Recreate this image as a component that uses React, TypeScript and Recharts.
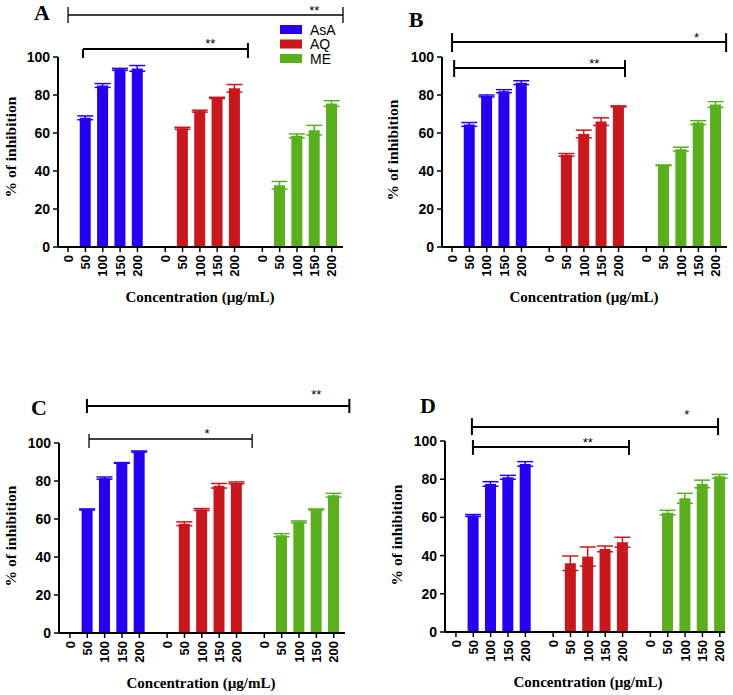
import React from 'react';
import { BarChart, Bar, XAxis, YAxis, ErrorBar, ReferenceLine, ReferenceDot } from 'recharts';

// ---------- data ----------
const concentrations = ['0', '50', '100', '150', '200'];
const seriesNames = ['AsA', 'AQ', 'ME'];
const seriesKeys = ['asa', 'aq', 'me'];
const seriesColors = ['#2300ef', '#c8171d', '#5aaf1f'];
const yTicks = [0, 20, 40, 60, 80, 100];
const GROUP_STEP = 5.6;

// Panel A
const aAsA = [68, 85, 93.5, 94];
const aAsAErr = [1, 1, 0.5, 1.5];
const aAQ = [62.5, 71.5, 78.5, 83.5];
const aAQErr = [0.5, 0.5, 0.3, 2];
const aME = [32.5, 58.5, 61.5, 75.5];
const aMEErr = [2, 1, 2.5, 1.5];

// Panel B
const bAsA = [64.5, 79.5, 82, 86.5];
const bAsAErr = [1, 0.5, 0.8, 1];
const bAQ = [48.5, 59.5, 66, 74];
const bAQErr = [0.7, 2, 2, 0.3];
const bME = [43, 51.5, 65.5, 75];
const bMEErr = [0.2, 1, 1, 1.5];

// Panel C
const cAsA = [65, 81.5, 89.5, 95.5];
const cAsAErr = [0.3, 0.6, 0.2, 0.3];
const cAQ = [57.5, 65, 77.5, 79];
const cAQErr = [1, 0.5, 1.2, 0.5];
const cME = [51.5, 58.5, 65, 72.5];
const cMEErr = [0.8, 0.5, 0.3, 1];

// Panel D
const dAsA = [61, 77.5, 81, 88];
const dAsAErr = [0.5, 1.2, 1, 1.2];
const dAQ = [36, 39.5, 43.5, 47];
const dAQErr = [3.8, 5, 1.5, 2.6];
const dME = [62.5, 70, 77.5, 81.5];
const dMEErr = [1.2, 2.6, 2, 1];

// significance brackets (data units)
const bracketsA = [
  { x1: 0, x2: 15.85, y: 122.1, capL: [117.9, 126.3], capR: [117.9, 126.3], label: '**', lx: 14.2, ly: 124.5, w: 1.3 },
  { x1: 0.86, x2: 10.37, y: 104.2, capL: [99.5, 104.2], capR: [99.5, 107.4], label: '**', lx: 8.2, ly: 107.3, w: 2 },
];
const bracketsB = [
  { x1: 0, x2: 15.8, y: 107.9, capL: [102.6, 112.6], capR: [102.6, 112.6], label: '*', lx: 14.1, ly: 110.5, w: 2 },
  { x1: 0.12, x2: 9.97, y: 94.2, capL: [89.5, 98.4], capR: [89.5, 98.4], label: '**', lx: 8.2, ly: 96.5, w: 2 },
];
const bracketsC = [
  { x1: 0.98, x2: 16.1, y: 119.5, capL: [115.8, 123.2], capR: [115.8, 123.2], label: '**', lx: 14.2, ly: 125.5, w: 2 },
  { x1: 1.1, x2: 10.5, y: 102.1, capL: [97.4, 104.7], capR: [97.4, 104.7], label: '*', lx: 7.9, ly: 105, w: 1.3 },
];
const bracketsD = [
  { x1: 0.92, x2: 15.1, y: 107.3, capL: [103.1, 112], capR: [103.1, 112], label: '*', lx: 13.3, ly: 114, w: 2 },
  { x1: 0.98, x2: 9.97, y: 96.9, capL: [92.7, 100.5], capR: [92.7, 100.5], label: '**', lx: 7.6, ly: 99.5, w: 2 },
];

// ---------- helpers ----------
function buildData(vals: number[][], errs: number[][]) {
  const rows: any[] = [];
  vals.forEach((v, g) => {
    concentrations.forEach((_, i) => {
      const row: any = { x: g * GROUP_STEP + i };
      if (i > 0) {
        row[seriesKeys[g]] = v[i - 1];
        row[seriesKeys[g] + 'Err'] = errs[g][i - 1];
      }
      rows.push(row);
    });
  });
  return rows;
}

const tickValues: number[] = [];
const tickLabels = new Map<number, string>();
seriesKeys.forEach((_, g) => {
  concentrations.forEach((c, i) => {
    const t = g * GROUP_STEP + i;
    tickValues.push(t);
    tickLabels.set(t, c);
  });
});

const XTick = (props: any) => {
  const { x, y, payload } = props;
  return (
    <g transform={`translate(${x},${y})`}>
      <text
        transform="rotate(-90)"
        textAnchor="end"
        dy="0.36em"
        fontSize={13}
        fontWeight={700}
        fontFamily="Liberation Sans, Arial, sans-serif"
        fill="#000"
      >
        {tickLabels.get(payload.value) ?? ''}
      </text>
    </g>
  );
};

const YW = 40;
const XH = 40;

const panels = [
  {
    id: 'A', left: 0, top: 0, w: 366, h: 340, plot: { l: 58, r: 343, t: 57, b: 247 }, xMin: -0.58, xMax: 15.85,
    data: buildData([aAsA, aAQ, aME], [aAsAErr, aAQErr, aMEErr]), brackets: bracketsA,
    letter: { x: 42, y: 20 }, ylab: { x: 10, y: 147 }, xlab: { x: 200, y: 297 }, legend: true,
  },
  {
    id: 'B', left: 366, top: 0, w: 367, h: 340, plot: { l: 442, r: 727, t: 57, b: 247 }, xMin: -0.58, xMax: 15.85,
    data: buildData([bAsA, bAQ, bME], [bAsAErr, bAQErr, bMEErr]), brackets: bracketsB,
    letter: { x: 416, y: 27 }, ylab: { x: 392, y: 150 }, xlab: { x: 584, y: 297 }, legend: false,
  },
  {
    id: 'C', left: 0, top: 340, w: 366, h: 355, plot: { l: 59, r: 345, t: 443, b: 633 }, xMin: -0.63, xMax: 15.85,
    data: buildData([cAsA, cAQ, cME], [cAsAErr, cAQErr, cMEErr]), brackets: bracketsC,
    letter: { x: 39, y: 415 }, ylab: { x: 10, y: 536 }, xlab: { x: 201, y: 683 }, legend: false,
  },
  {
    id: 'D', left: 366, top: 340, w: 367, h: 355, plot: { l: 445, r: 725, t: 441, b: 632 }, xMin: -0.63, xMax: 15.5,
    data: buildData([dAsA, dAQ, dME], [dAsAErr, dAQErr, dMEErr]), brackets: bracketsD,
    letter: { x: 428, y: 413 }, ylab: { x: 396, y: 535 }, xlab: { x: 588, y: 682 }, legend: false,
  },
];

const serif = 'Liberation Serif, Times New Roman, serif';
const sans = 'Liberation Sans, Arial, sans-serif';

function Panel({ p }: { p: any }) {
  const margin = {
    left: p.plot.l - p.left - YW,
    right: p.left + p.w - p.plot.r,
    top: p.plot.t - p.top,
    bottom: p.top + p.h - p.plot.b - XH,
  };
  return (
    <div style={{ position: 'absolute', left: p.left, top: p.top, width: p.w, height: p.h }}>
      <BarChart width={p.w} height={p.h} data={p.data} margin={margin} barCategoryGap={0}>
        <XAxis
          type="number"
          dataKey="x"
          domain={[p.xMin, p.xMax]}
          allowDataOverflow
          ticks={tickValues}
          interval={0}
          height={XH}
          tick={<XTick />}
          tickSize={5}
          tickMargin={3}
          axisLine={{ stroke: '#000', strokeWidth: 2 }}
          tickLine={{ stroke: '#000', strokeWidth: 1.5 }}
        />
        <YAxis
          type="number"
          domain={[0, 100]}
          allowDataOverflow
          ticks={yTicks}
          interval={0}
          width={YW}
          tickSize={5}
          tickMargin={3}
          axisLine={{ stroke: '#000', strokeWidth: 2 }}
          tickLine={{ stroke: '#000', strokeWidth: 1.5 }}
          tick={{ fill: '#000', fontSize: 14, fontWeight: 700, fontFamily: sans }}
        />
        {seriesKeys.map((k, g) => (
          <Bar key={k} dataKey={k} name={seriesNames[g]} stackId="s" fill={seriesColors[g]} barSize={11} isAnimationActive={false}>
            <ErrorBar dataKey={k + 'Err'} direction="y" width={8} stroke={seriesColors[g]} strokeWidth={1.5} isAnimationActive={false} />
          </Bar>
        ))}
        {p.brackets.map((b: any, i: number) => (
          <ReferenceLine key={'h' + i} segment={[{ x: b.x1, y: b.y }, { x: b.x2, y: b.y }]} stroke="#000" strokeWidth={b.w} ifOverflow="visible" />
        ))}
        {p.brackets.map((b: any, i: number) => (
          <ReferenceLine key={'l' + i} segment={[{ x: b.x1, y: b.capL[0] }, { x: b.x1, y: b.capL[1] }]} stroke="#000" strokeWidth={b.w} ifOverflow="visible" />
        ))}
        {p.brackets.map((b: any, i: number) => (
          <ReferenceLine key={'r' + i} segment={[{ x: b.x2, y: b.capR[0] }, { x: b.x2, y: b.capR[1] }]} stroke="#000" strokeWidth={b.w} ifOverflow="visible" />
        ))}
        {p.brackets.map((b: any, i: number) => (
          <ReferenceDot
            key={'d' + i}
            x={b.lx}
            y={b.ly}
            r={0}
            fill="none"
            stroke="none"
            ifOverflow="visible"
            label={{ value: b.label, position: 'center', fontSize: 13, fill: '#000', fontFamily: sans }}
          />
        ))}
      </BarChart>
    </div>
  );
}

export default function App() {
  return (
    <div style={{ position: 'absolute', left: 0, top: 0, width: 733, height: 695, background: '#fff', overflow: 'hidden' }}>
      {panels.map((p) => (
        <Panel key={p.id} p={p} />
      ))}
      <svg width={733} height={695} style={{ position: 'absolute', left: 0, top: 0, pointerEvents: 'none' }}>
        {panels.map((p) => (
          <g key={'t' + p.id}>
            <text x={p.letter.x} y={p.letter.y} textAnchor="middle" fontFamily={serif} fontWeight={700} fontSize={22} fill="#000">
              {p.id}
            </text>
            <text
              transform={`translate(${p.ylab.x},${p.ylab.y}) rotate(-90)`}
              textAnchor="middle"
              dominantBaseline="central"
              fontFamily={serif}
              fontWeight={700}
              fontSize={15.5}
              fill="#000"
            >
              % of inhibition
            </text>
            <text x={p.xlab.x} y={p.xlab.y} textAnchor="middle" dominantBaseline="central" fontFamily={serif} fontWeight={700} fontSize={15} fill="#000">
              Concentration (µg/mL)
            </text>
          </g>
        ))}
        {seriesNames.map((n, g) => (
          <g key={'lg' + n}>
            <rect x={280} y={25 + g * 14.5} width={22} height={9} fill={seriesColors[g]} />
            <text x={310} y={29.5 + g * 14.5} dominantBaseline="central" fontFamily={sans} fontSize={14} fill="#000">
              {n}
            </text>
          </g>
        ))}
      </svg>
    </div>
  );
}
